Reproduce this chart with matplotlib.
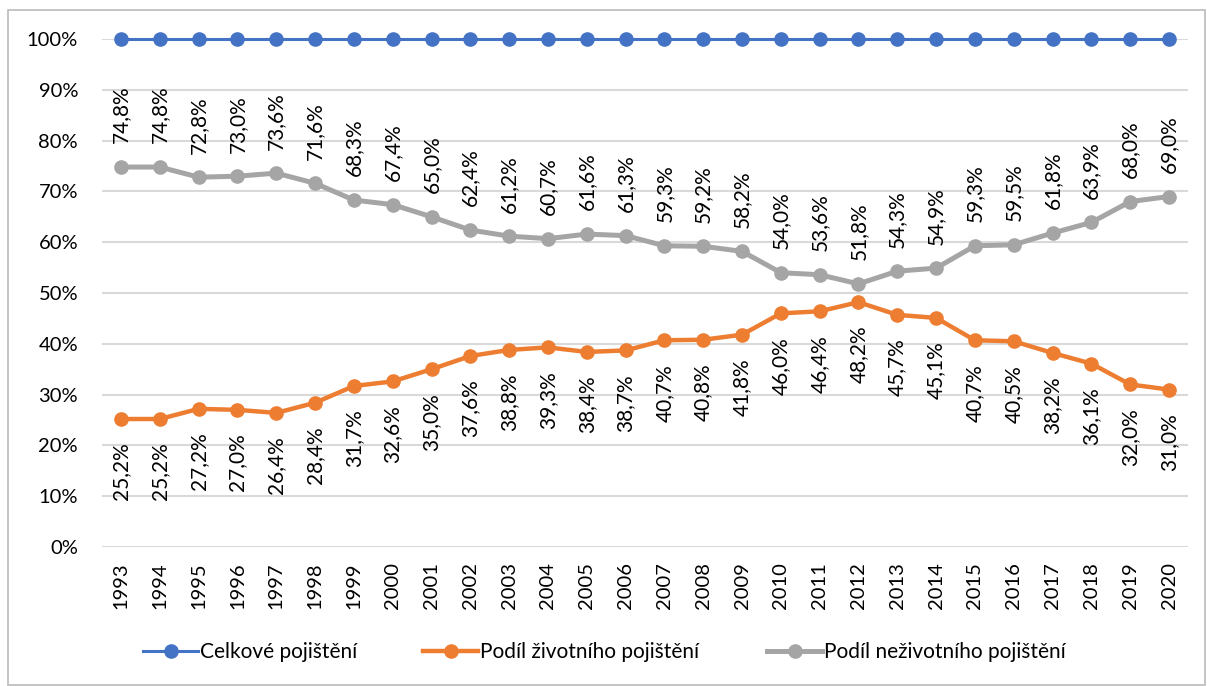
import matplotlib.pyplot as plt
from matplotlib.patches import Rectangle

plt.rcParams['font.family'] = ['Lato', 'DejaVu Sans']

roky = list(range(1993, 2021))
celkove = [100.0] * 28
zivotni = [25.2, 25.2, 27.2, 27.0, 26.4, 28.4, 31.7, 32.6, 35.0, 37.6, 38.8, 39.3, 38.4, 38.7,
           40.7, 40.8, 41.8, 46.0, 46.4, 48.2, 45.7, 45.1, 40.7, 40.5, 38.2, 36.1, 32.0, 31.0]
nezivotni = [74.8, 74.8, 72.8, 73.0, 73.6, 71.6, 68.3, 67.4, 65.0, 62.4, 61.2, 60.7, 61.6, 61.3,
             59.3, 59.2, 58.2, 54.0, 53.6, 51.8, 54.3, 54.9, 59.3, 59.5, 61.8, 63.9, 68.0, 69.0]
nazvy = ['Celkové pojištění', 'Podíl životního pojištění', 'Podíl neživotního pojištění']

modra = '#4472C4'
oranzova = '#ED7D31'
seda = '#A5A5A5'

fig = plt.figure(figsize=(12.07, 6.86), dpi=100)
fig.patch.set_facecolor('white')
fig.patches.append(Rectangle((8 / 1207, 1 / 686), 1197 / 1207, 675 / 686, transform=fig.transFigure,
                             fill=False, edgecolor='#BFBFBF', linewidth=1.3))
ax = fig.add_axes([0.0842, 0.2026, 0.9004, 0.7405])

x = list(range(len(roky)))
l1, = ax.plot(x, celkove, color=modra, lw=2.2, marker='o', ms=9.5, label=nazvy[0], clip_on=False, zorder=3)
l2, = ax.plot(x, zivotni, color=oranzova, lw=3.2, marker='o', ms=9.5, label=nazvy[1], zorder=3)
l3, = ax.plot(x, nezivotni, color=seda, lw=3.6, marker='o', ms=9.5, label=nazvy[2], zorder=3)


def fmt(v):
    return ('%.1f' % v).replace('.', ',') + '%'


for i in x:
    ax.annotate(fmt(nezivotni[i]), (i, nezivotni[i]), xytext=(0, 17), textcoords='offset points',
                rotation=90, ha='center', va='bottom', fontsize=15, color='#000000')
    ax.annotate(fmt(zivotni[i]), (i, zivotni[i]), xytext=(0, -17), textcoords='offset points',
                rotation=90, ha='center', va='top', fontsize=15, color='#000000')

ax.set_xlim(-0.5, len(roky) - 0.5)
ax.set_ylim(0, 100)
ax.set_yticks(range(0, 101, 10))
ax.set_yticklabels(['%d%%' % t for t in range(0, 101, 10)])
ax.set_xticks(x)
ax.set_xticklabels([str(r) for r in roky], rotation=90)
ax.tick_params(axis='y', length=0, pad=17, labelsize=14.5)
ax.tick_params(axis='x', length=0, pad=11, labelsize=14.5)
ax.grid(axis='y', color='#D9D9D9', lw=1.5)
ax.set_axisbelow(True)
for s in ax.spines.values():
    s.set_visible(False)

# legenda - tri samostatne polozky (jako v Excelu)
for h, xpos in zip([l1, l2, l3], [143, 423, 767]):
    fig.legend(handles=[h], loc='center left', bbox_to_anchor=(xpos / 1207, 1 - 652 / 686),
               frameon=False, fontsize=15, handlelength=2.65, handletextpad=0.1,
               borderpad=0, borderaxespad=0)

fig.savefig('out.png', dpi=100)
